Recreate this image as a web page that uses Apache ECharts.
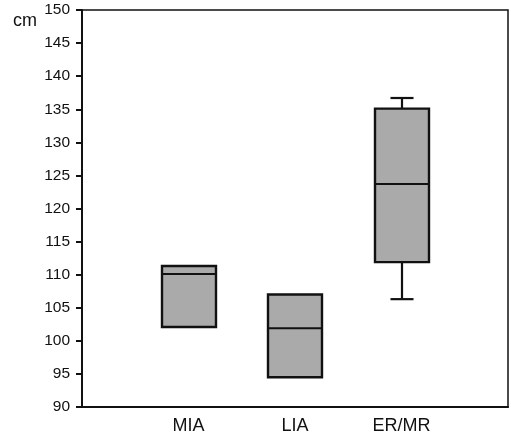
<!DOCTYPE html>
<html>
<head>
<meta charset="utf-8">
<script src="https://cdn.jsdelivr.net/npm/echarts@6/dist/echarts.min.js"></script>
<style>
  html, body { margin: 0; padding: 0; background: #fff; }
  #chart { width: 511px; height: 441px; }
</style>
</head>
<body>
<div id="chart"></div>
<script>
// groups and box values: [min, Q1, median, Q3, max]
const categories = ['MIA', 'LIA', 'ER/MR']
const boxValues = [
  [102.1, 102.1, 110.1, 111.3, 111.3],
  [94.5, 94.5, 101.9, 107.0, 107.0],
  [106.3, 111.9, 123.7, 135.1, 136.7]
]
const yTicks = [90, 95, 100, 105, 110, 115, 120, 125, 130, 135, 140, 145, 150]

// empty slots at both ends so the groups sit at 1/4, 2/4, 3/4 of the width
const axisData = [''].concat(categories, [''])
const seriesData = boxValues.map((v, i) => [i + 1].concat(v))

const myChart = echarts.init(document.getElementById('chart'))
const font = 'Liberation Sans, Arial, sans-serif'
const BOX_W = 54
const CAP_W = 23
const LINE = { stroke: '#111', lineWidth: 2.2 }

function renderBox(params, api) {
  const x = api.value(0)
  const pMin = api.coord([x, api.value(1)])
  const pQ1 = api.coord([x, api.value(2)])
  const pMed = api.coord([x, api.value(3)])
  const pQ3 = api.coord([x, api.value(4)])
  const pMax = api.coord([x, api.value(5)])
  const cx = Math.round(pMed[0])
  const hb = BOX_W / 2
  const hc = CAP_W / 2
  const children = []
  if (pMax[1] < pQ3[1] - 0.5) {
    children.push({ type: 'line', shape: { x1: cx, y1: pQ3[1], x2: cx, y2: pMax[1] }, style: LINE })
    children.push({ type: 'line', shape: { x1: cx - hc, y1: pMax[1], x2: cx + hc, y2: pMax[1] }, style: LINE })
  }
  if (pMin[1] > pQ1[1] + 0.5) {
    children.push({ type: 'line', shape: { x1: cx, y1: pQ1[1], x2: cx, y2: pMin[1] }, style: LINE })
    children.push({ type: 'line', shape: { x1: cx - hc, y1: pMin[1], x2: cx + hc, y2: pMin[1] }, style: LINE })
  }
  children.push({
    type: 'rect',
    shape: { x: cx - hb, y: pQ3[1], width: BOX_W, height: pQ1[1] - pQ3[1] },
    style: { fill: '#aaaaaa', stroke: '#111', lineWidth: 2.4 }
  })
  children.push({ type: 'line', shape: { x1: cx - hb, y1: pMed[1], x2: cx + hb, y2: pMed[1] }, style: LINE })
  return { type: 'group', children: children }
}

const option = {
  animation: false,
  grid: {
    left: 82,
    right: 2,
    top: 10,
    bottom: 34,
    show: true,
    borderColor: '#111',
    borderWidth: 1.5,
    backgroundColor: 'transparent'
  },
  graphic: [
    {
      type: 'text',
      left: 13,
      top: 12,
      style: { text: 'cm', fontSize: 18, fontFamily: font, fill: '#111' }
    }
  ],
  xAxis: {
    type: 'category',
    data: axisData,
    boundaryGap: false,
    axisLine: { lineStyle: { color: '#111', width: 2 } },
    axisTick: { show: false },
    axisLabel: { color: '#111', fontSize: 18, fontFamily: font, margin: 10 },
    splitLine: { show: false }
  },
  yAxis: {
    type: 'value',
    min: yTicks[0],
    max: yTicks[yTicks.length - 1],
    interval: 5,
    axisLine: { show: true, lineStyle: { color: '#111', width: 2 } },
    axisTick: { show: true, length: 6, lineStyle: { color: '#111', width: 2 } },
    axisLabel: { color: '#111', fontSize: 15.5, fontFamily: font, margin: 12 },
    splitLine: { show: false }
  },
  series: [
    {
      type: 'custom',
      renderItem: renderBox,
      encode: { x: 0, y: [1, 2, 3, 4, 5] },
      data: seriesData
    }
  ]
}

myChart.setOption(option)
</script>
</body>
</html>
